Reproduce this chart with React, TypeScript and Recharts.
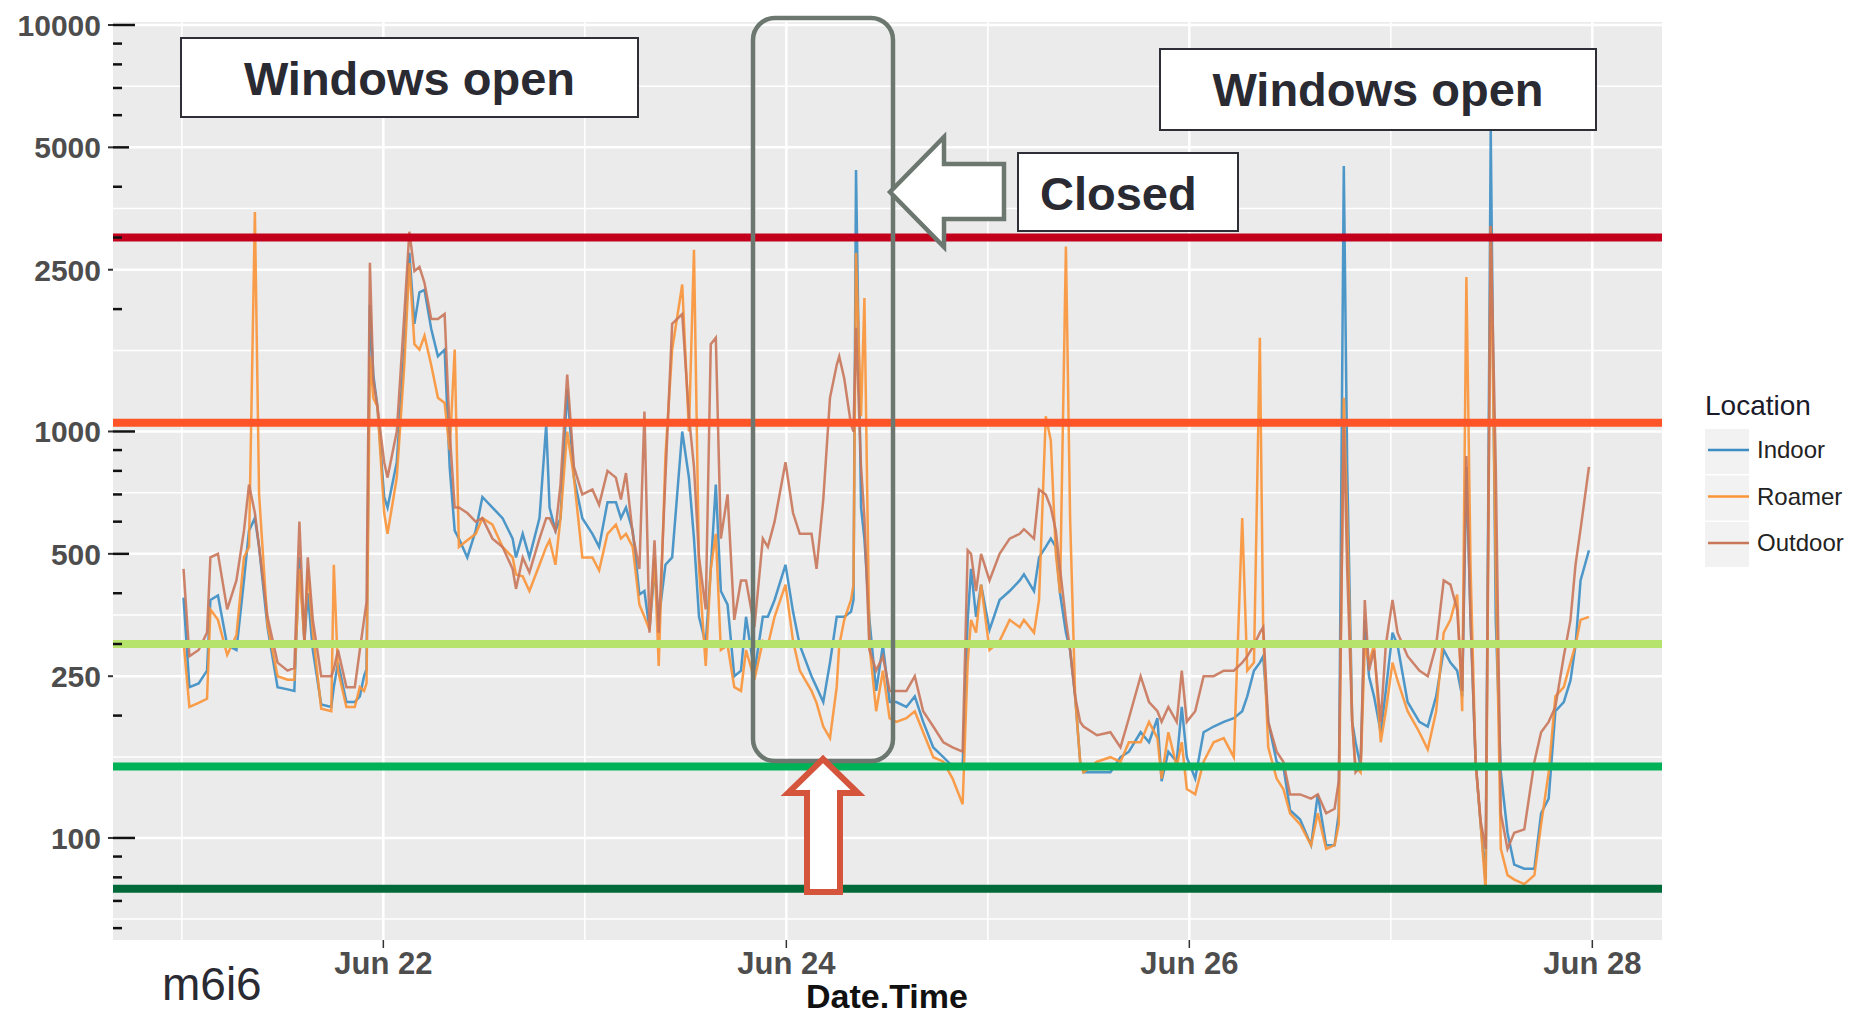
import React from "react";
import {
  LineChart,
  Line,
  XAxis,
  YAxis,
  ReferenceLine,
  ReferenceArea,
} from "recharts";

// hours since Jun 21 00:00
const hours = [
  0.2, 0.9, 2.0, 3.0, 3.4, 4.3, 5.4, 6.5, 7.4, 8.0,
  8.7, 9.2, 10.2, 11.4, 12.6, 13.4, 14.0, 14.6, 15.0, 15.6,
  16.6, 17.8, 18.1, 18.6, 19.6, 20.6, 21.2, 21.7, 22.0, 22.4,
  22.8, 23.3, 24.1, 24.5, 25.6, 26.5, 27.1, 27.7, 28.3, 28.9,
  29.7, 30.5, 31.3, 31.9, 32.5, 33.0, 34.0, 35.0, 35.8, 37.0,
  38.2, 39.4, 39.8, 40.6, 41.4, 42.6, 43.4, 43.8, 44.5, 45.1,
  45.9, 46.7, 47.7, 48.9, 49.7, 50.7, 51.7, 52.3, 52.9, 53.7,
  54.5, 55.1, 55.7, 56.3, 56.8, 57.6, 58.4, 59.6, 60.4, 61.0,
  61.6, 62.4, 63.0, 63.6, 64.2, 65.0, 65.8, 66.6, 67.2, 68.2,
  69.2, 69.8, 70.6, 71.9, 72.8, 73.6, 75.0, 75.6, 76.4, 77.2,
  78.0, 78.3, 78.9, 79.7, 80.0, 80.3, 80.9, 81.3, 81.9, 82.7,
  83.5, 84.3, 85.1, 86.3, 87.3, 88.3, 89.5, 90.7, 91.8, 93.0,
  93.6, 94.0, 94.6, 95.2, 96.2, 97.4, 98.6, 99.8, 100.3, 101.5,
  102.1, 102.9, 103.5, 104.1, 104.6, 105.3, 105.8, 106.4, 107.0, 107.4,
  109.0, 110.6, 111.8, 112.8, 114.2, 115.2, 116.2, 116.7, 117.5, 118.5,
  119.1, 119.7, 120.7, 121.7, 122.9, 124.1, 125.3, 126.3, 126.9, 127.7,
  128.4, 128.8, 129.4, 130.4, 131.2, 132.0, 133.2, 134.5, 135.3, 136.3,
  137.3, 137.8, 138.4, 138.8, 139.4, 139.8, 140.4, 140.9, 141.4, 142.0,
  142.8, 143.4, 144.2, 144.8, 146.0, 147.4, 148.4, 149.4, 150.3, 151.1,
  151.9, 152.5, 153.0, 153.5, 154.1, 154.7, 155.3, 155.9, 156.5, 157.1,
  157.9, 158.7, 159.9, 161.1, 161.9, 162.8, 163.6, 164.6, 165.4, 166.0,
  166.6, 167.6,
];

const indoor = [
  390, 235, 240, 258, 385, 395, 298, 290, 430, 570,
  612, 520, 330, 235, 232, 230, 490, 305, 400, 290,
  213, 210, 235, 270, 216, 216, 223, 250, 260, 2050,
  1380, 1150, 690, 650, 840, 1600, 2750, 1840, 2200, 2230,
  1790, 1530, 1590, 818, 570, 545, 490, 570, 690, 650,
  612, 545, 490, 560, 490, 612, 1040, 650, 570, 612,
  1270, 770, 612, 560, 520, 670, 670, 612, 650, 570,
  397, 405, 325, 459, 344, 470, 490, 1000, 770, 545,
  350, 300, 459, 740, 405, 375, 250, 258, 350, 255,
  350, 350, 385, 470, 360, 298, 250, 235, 216, 270,
  350, 350, 350, 360, 385, 4400, 650, 545, 344, 230,
  298, 216, 216, 210, 223, 193, 167, 158, 150, 150,
  344, 459, 350, 420, 325, 385, 405, 430, 445, 405,
  490, 520, 545, 520, 400, 320, 290, 223, 154, 145,
  145, 145, 158, 163, 182, 172, 197, 138, 163, 154,
  210, 158, 140, 182, 188, 193, 197, 205, 223, 258,
  270, 280, 193, 154, 150, 117, 111, 96, 128, 96,
  96, 115, 4500, 818, 193, 172, 150, 344, 250, 223,
  182, 230, 320, 298, 216, 193, 188, 223, 290, 270,
  258, 223, 818, 344, 154, 108, 79, 5500, 344, 145,
  103, 86, 84, 84, 115, 125, 205, 216, 244, 298,
  430, 510,
];

const roamer = [
  305, 210, 215, 220, 365, 344, 282, 315, 490, 520,
  3467, 700, 335, 250, 245, 245, 459, 305, 459, 320,
  208, 205, 470, 258, 210, 210, 235, 230, 240, 1530,
  1210, 1150, 630, 560, 770, 1457, 2597, 1640, 1590, 1720,
  1457, 1210, 1175, 900, 1590, 520, 540, 560, 612, 590,
  520, 490, 445, 440, 405, 470, 520, 540, 470, 612,
  1000, 770, 490, 490, 455, 560, 590, 545, 560, 520,
  375, 350, 325, 490, 265, 870, 1590, 2300, 1000, 2800,
  459, 265, 459, 560, 290, 298, 235, 230, 290, 245,
  305, 298, 350, 420, 305, 258, 230, 215, 188, 176,
  235, 298, 344, 385, 420, 2750, 1090, 2130, 298, 205,
  258, 197, 193, 197, 205, 182, 158, 154, 140, 121,
  270, 344, 320, 420, 290, 305, 344, 330, 344, 320,
  385, 1090, 950, 500, 400, 2850, 612, 223, 154, 145,
  154, 158, 154, 172, 172, 193, 176, 140, 182, 150,
  172, 132, 128, 154, 172, 176, 158, 612, 258, 270,
  1700, 320, 167, 140, 132, 115, 108, 96, 115, 94,
  96, 108, 1210, 612, 193, 150, 145, 298, 270, 298,
  172, 205, 270, 244, 205, 182, 165, 205, 320, 344,
  397, 205, 2400, 459, 154, 108, 74, 3200, 459, 94,
  81, 79, 77, 81, 108, 145, 223, 235, 270, 298,
  344, 350,
];

const outdoor = [
  459, 280, 290, 320, 490, 500, 365, 430, 570, 740,
  630, 520, 350, 270, 258, 262, 600, 305, 490, 344,
  250, 250, 260, 290, 235, 235, 290, 344, 380, 2600,
  1340, 1150, 840, 770, 1000, 1945, 3100, 2480, 2540, 2320,
  1890, 1890, 1945, 1000, 650, 650, 630, 600, 612, 545,
  520, 459, 410, 490, 450, 545, 612, 612, 570, 740,
  1380, 818, 700, 720, 660, 800, 770, 680, 790, 560,
  459, 1120, 320, 540, 320, 770, 1840, 1945, 1090, 818,
  490, 365, 1640, 1700, 545, 700, 344, 430, 430, 330,
  545, 520, 600, 840, 630, 560, 560, 459, 680, 1210,
  1457, 1530, 1350, 1040, 1000, 1800, 818, 612, 290, 258,
  280, 230, 230, 230, 250, 205, 188, 172, 167, 163,
  510, 500, 405, 500, 430, 500, 545, 560, 575, 545,
  720, 700, 650, 570, 459, 344, 290, 223, 193, 188,
  179, 182, 167, 197, 250, 216, 205, 193, 210, 193,
  258, 193, 205, 250, 250, 258, 258, 270, 280, 298,
  320, 330, 193, 163, 154, 128, 128, 125, 128, 115,
  118, 138, 1040, 459, 193, 145, 150, 385, 258, 290,
  193, 298, 385, 320, 280, 258, 250, 298, 430, 420,
  365, 230, 870, 344, 154, 110, 94, 3200, 818, 115,
  94, 103, 105, 154, 182, 193, 210, 280, 344, 470,
  575, 818,
];

const xTickHours = [24, 72, 120, 168];
const xTickLabels = ["Jun 22", "Jun 24", "Jun 26", "Jun 28"];
const xMinorHours = [0, 48, 96, 144];

const yLabelTicks = [100, 250, 500, 1000, 2500, 5000, 10000];
const yLogTicks = [
  60, 70, 80, 90, 100, 200, 300, 400, 500, 600, 700, 800, 900,
  1000, 2000, 3000, 4000, 5000, 6000, 7000, 8000, 9000, 10000,
];
const yMinorGrid = [63.2, 158.1, 353.6, 707.1, 1581.1, 3535.5, 7071.1];

const thresholds = [3000, 1050, 300, 150, 75];
const thresholdColors = ["#c2001c", "#ff5427", "#b6e36c", "#00b257", "#00693a"];

const seriesNames = ["Indoor", "Roamer", "Outdoor"];
const seriesKeys = ["indoor", "roamer", "outdoor"];
const seriesColors = ["#3b8dc4", "#fb9437", "#c9775a"];

const data = hours.map((h, i) => ({
  h,
  indoor: indoor[i],
  roamer: roamer[i],
  outdoor: outdoor[i],
}));

const FONT = "'Liberation Sans', Arial, sans-serif";
const X_DOMAIN: [number, number] = [-8.2, 176.3];
const Y_DOMAIN: [number, number] = [56.1, 10171];

const yTicks = Array.from(new Set([...yLabelTicks, ...yLogTicks])).sort(
  (a, b) => a - b
);

function YTick(props: any) {
  const { x, y, payload } = props;
  const v = payload.value;
  const labeled = yLabelTicks.includes(v);
  const isLog = yLogTicks.includes(v);
  const lead = v / Math.pow(10, Math.floor(Math.log10(v) + 1e-9));
  const len = Math.abs(lead - 1) < 1e-6 ? 22 : Math.abs(lead - 5) < 1e-6 ? 16 : 9;
  return (
    <g>
      {labeled && (
        <line x1={x - 5} x2={x} y1={y} y2={y} stroke="#333" strokeWidth={2} />
      )}
      {labeled && (
        <text
          x={x - 12}
          y={y}
          dy="0.36em"
          textAnchor="end"
          fontFamily={FONT}
          fontWeight="bold"
          fontSize={30}
          fill="#4d4d4d"
        >
          {v}
        </text>
      )}
      {isLog && (
        <line x1={x} x2={x + len} y1={y} y2={y} stroke="#111" strokeWidth={2.5} />
      )}
    </g>
  );
}

function XTick(props: any) {
  const { x, y, payload } = props;
  const idx = xTickHours.indexOf(payload.value);
  return (
    <text
      x={x}
      y={y}
      dy={22}
      textAnchor="middle"
      fontFamily={FONT}
      fontWeight="bold"
      fontSize={31}
      fill="#4d4d4d"
    >
      {idx >= 0 ? xTickLabels[idx] : ""}
    </text>
  );
}

const boxText = {
  fontFamily: FONT,
  fontWeight: "bold" as const,
  fontSize: 47,
  fill: "#2a2a33",
};

export default function App() {
  return (
    <div
      style={{
        position: "absolute",
        left: 0,
        top: 0,
        width: 1858,
        height: 1018,
        background: "#fff",
      }}
    >
      <LineChart
        width={1858}
        height={1018}
        data={data}
        margin={{ top: 22, right: 196, bottom: 0, left: 0 }}
      >
        <ReferenceArea
          x1={X_DOMAIN[0]}
          x2={X_DOMAIN[1]}
          y1={Y_DOMAIN[0]}
          y2={Y_DOMAIN[1]}
          fill="#ebebeb"
          fillOpacity={1}
          stroke="none"
          ifOverflow="hidden"
          zIndex={-90}
        />
        {yMinorGrid.map((v) => (
          <ReferenceLine key={"ym" + v} y={v} stroke="#fff" strokeWidth={1.5} zIndex={-60} />
        ))}
        {yLabelTicks.map((v) => (
          <ReferenceLine key={"yM" + v} y={v} stroke="#fff" strokeWidth={2.5} zIndex={-60} />
        ))}
        {xMinorHours.map((v) => (
          <ReferenceLine key={"xm" + v} x={v} stroke="#fff" strokeWidth={1.5} zIndex={-60} />
        ))}
        {xTickHours.map((v) => (
          <ReferenceLine key={"xM" + v} x={v} stroke="#fff" strokeWidth={2.5} zIndex={-60} />
        ))}
        <XAxis
          dataKey="h"
          type="number"
          domain={X_DOMAIN}
          allowDataOverflow
          ticks={xTickHours}
          interval={0}
          height={78}
          axisLine={false}
          tickLine={{ stroke: "#333", strokeWidth: 1.5 }}
          tickSize={8}
          tickMargin={4}
          tick={<XTick />}
        />
        <YAxis
          type="number"
          scale="log"
          domain={Y_DOMAIN}
          allowDataOverflow
          ticks={yTicks}
          interval={0}
          width={113}
          axisLine={false}
          tickLine={false}
          tickSize={0}
          tickMargin={0}
          tick={<YTick />}
        />
        {seriesKeys.map((k, i) => (
          <Line
            key={k}
            dataKey={k}
            name={seriesNames[i]}
            type="linear"
            stroke={seriesColors[i]}
            strokeWidth={2.5}
            strokeOpacity={0.9}
            dot={false}
            activeDot={false}
            isAnimationActive={false}
          />
        ))}
        {thresholds.map((v, i) => (
          <ReferenceLine
            key={"t" + v}
            y={v}
            stroke={thresholdColors[i]}
            strokeWidth={8}
            zIndex={450}
          />
        ))}
      </LineChart>

      <svg
        width={1858}
        height={1018}
        style={{ position: "absolute", left: 0, top: 0, pointerEvents: "none" }}
      >
        {/* annotation boxes */}
        <rect x={181} y={38} width={457} height={79} fill="#fff" stroke="#2e2e36" strokeWidth={2} />
        <text x={409.5} y={95} textAnchor="middle" {...boxText}>
          Windows open
        </text>
        <rect x={1160} y={49} width={436} height={81} fill="#fff" stroke="#2e2e36" strokeWidth={2} />
        <text x={1378} y={106} textAnchor="middle" {...boxText}>
          Windows open
        </text>
        <rect x={1018} y={153} width={220} height={78} fill="#fff" stroke="#2e2e36" strokeWidth={2} />
        <text x={1040} y={210} textAnchor="start" {...boxText}>
          Closed
        </text>

        {/* closed period frame and arrows */}
        <rect x={753} y={18} width={140} height={743} rx={22} fill="none" stroke="#6b776f" strokeWidth={4.5} />
        <polygon
          points="890,192 944,137 944,164 1004,164 1004,219 944,219 944,247"
          fill="#fff"
          stroke="#6b776f"
          strokeWidth={4.5}
        />
        <polygon
          points="823,759 858,793 840,793 840,892 807,892 807,793 788,793"
          fill="#fff"
          stroke="#d4543c"
          strokeWidth={6}
        />

        {/* legend */}
        <text x={1705} y={415} fontFamily={FONT} fontSize={28} fill="#1a1a2a">
          Location
        </text>
        {seriesNames.map((n, i) => (
          <g key={n}>
            <rect x={1705} y={429 + i * 46.5} width={44} height={45} fill="#f2f2f2" />
            <line
              x1={1708}
              x2={1749}
              y1={450 + i * 46.5}
              y2={450 + i * 46.5}
              stroke={seriesColors[i]}
              strokeWidth={2.5}
            />
            <text x={1757} y={458 + i * 46.7} fontFamily={FONT} fontSize={24} fill="#222">
              {n}
            </text>
          </g>
        ))}

        {/* axis title and sensor id */}
        <text
          x={887}
          y={1008}
          textAnchor="middle"
          fontFamily={FONT}
          fontWeight="bold"
          fontSize={34}
          fill="#111"
        >
          Date.Time
        </text>
        <text x={162} y={1000} fontFamily={FONT} fontSize={46} fill="#2a2a33">
          m6i6
        </text>
      </svg>
    </div>
  );
}
